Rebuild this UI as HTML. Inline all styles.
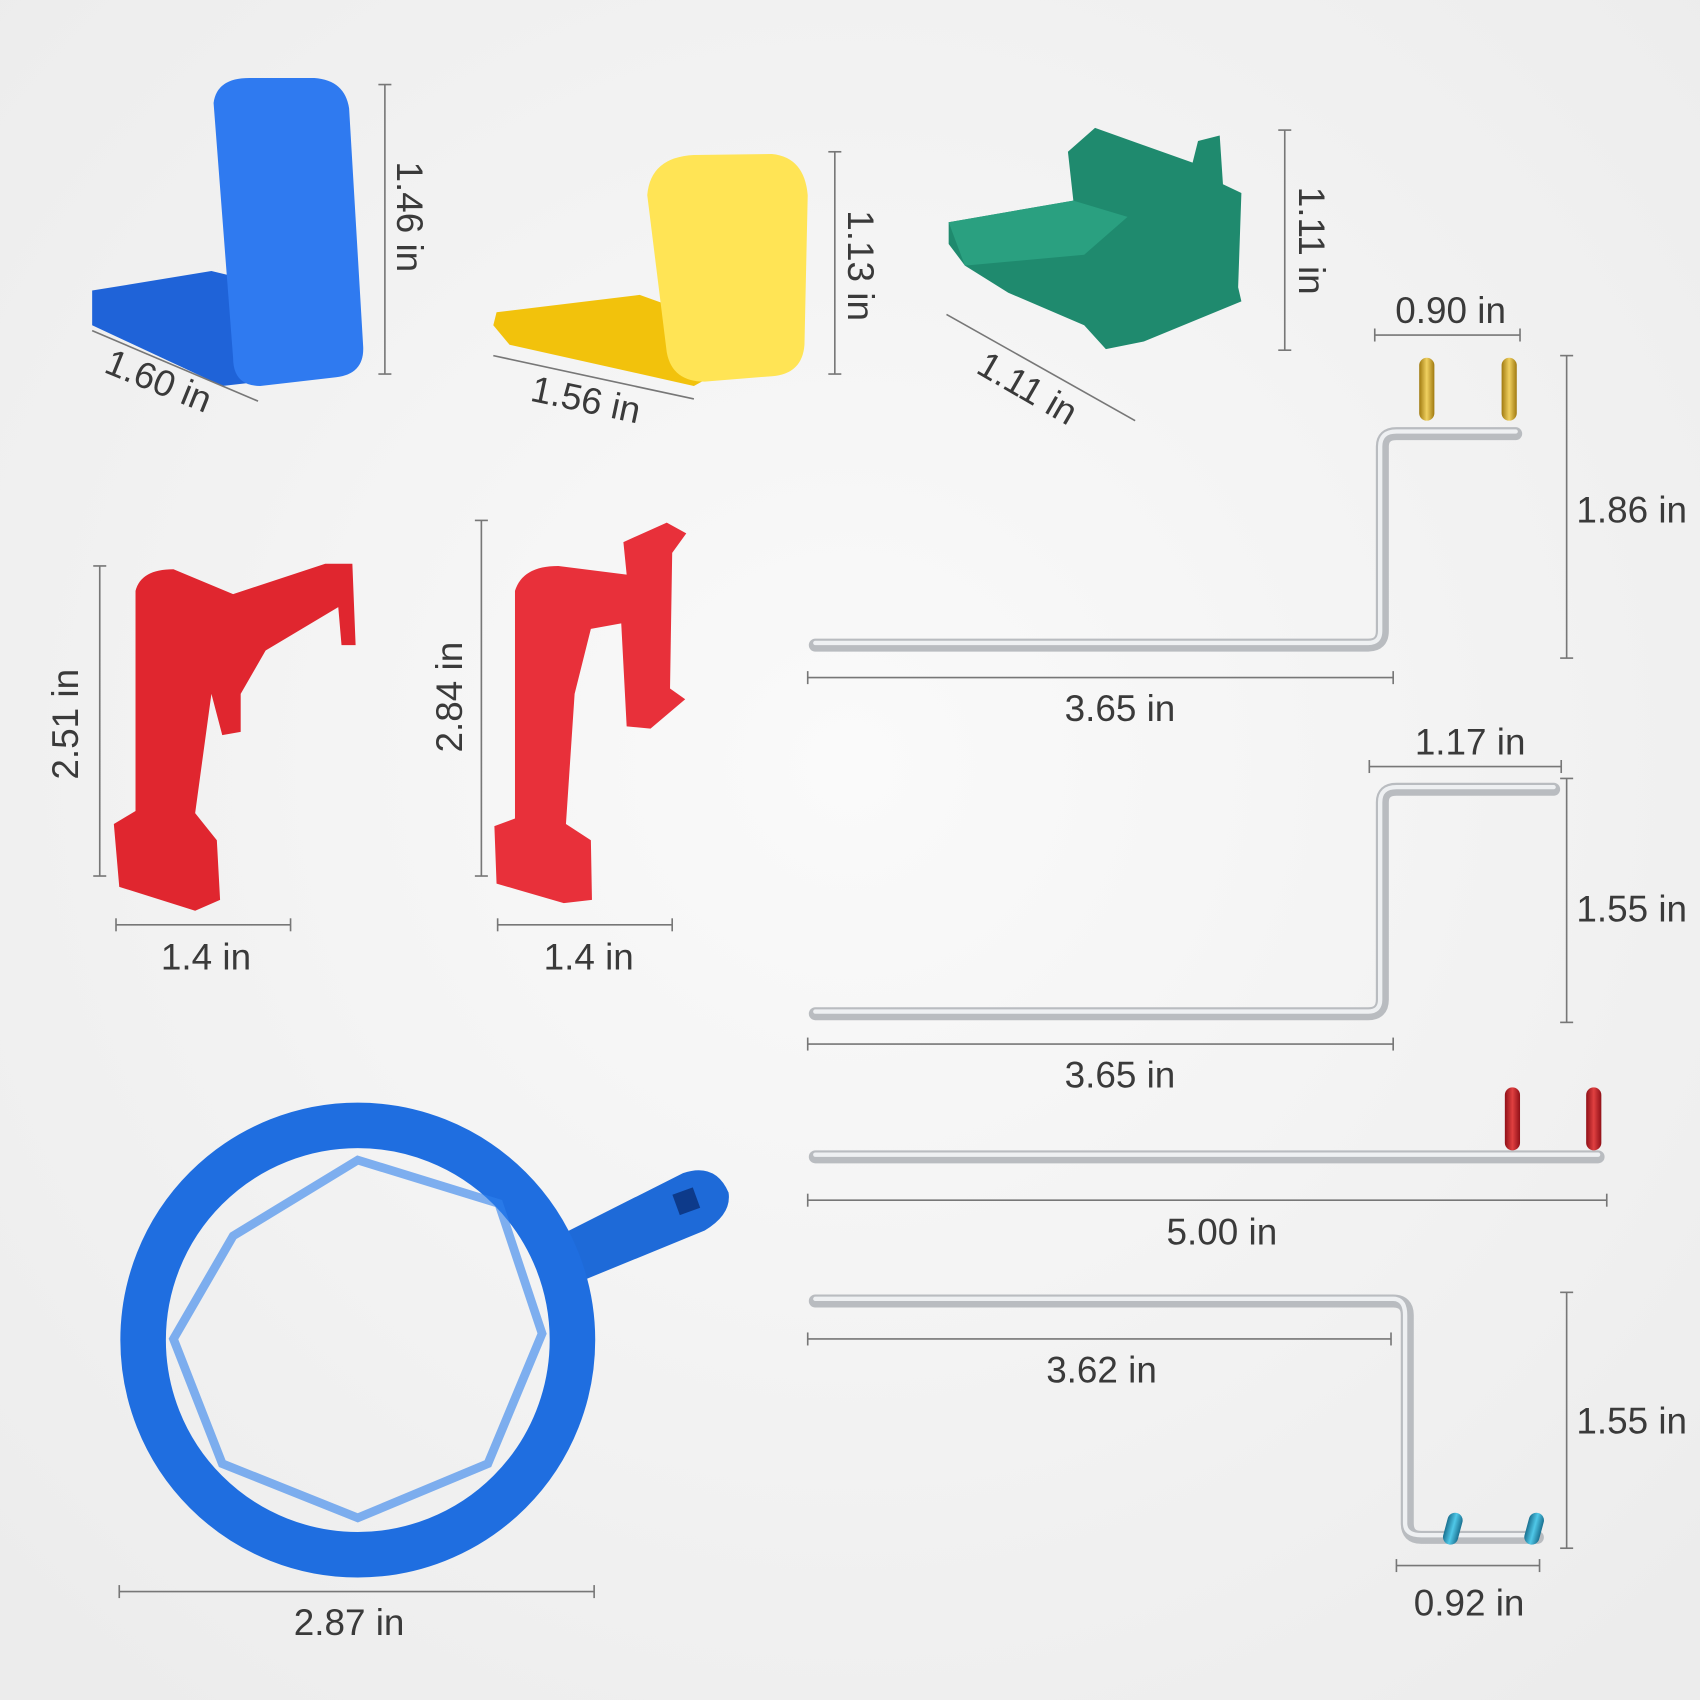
<!DOCTYPE html>
<html><head><meta charset="utf-8"><style>
html,body{margin:0;padding:0;background:#f3f3f3;}
svg{display:block}
text{font-family:"Liberation Sans",sans-serif;font-size:34px;fill:#3a3a3a;}
.d{stroke:#777;stroke-width:1.5;fill:none}
.rod{fill:none;stroke:#b9bcc0;stroke-width:12;stroke-linecap:round;stroke-linejoin:round}
.rodh{fill:none;stroke:#eef0f2;stroke-width:4;stroke-linecap:round;stroke-linejoin:round}
</style></head><body>
<svg width="1700" height="1700" viewBox="0 0 1568 1568" xmlns="http://www.w3.org/2000/svg">
<defs>
<radialGradient id="bg" cx="50%" cy="45%" r="70%"><stop offset="0" stop-color="#fafafa"/><stop offset="1" stop-color="#ececec"/></radialGradient>
<linearGradient id="gold" x1="0" x2="1"><stop offset="0" stop-color="#a07a10"/><stop offset=".5" stop-color="#f0d060"/><stop offset="1" stop-color="#a07a10"/></linearGradient>
<linearGradient id="redp" x1="0" x2="1"><stop offset="0" stop-color="#901018"/><stop offset=".5" stop-color="#e04040"/><stop offset="1" stop-color="#901018"/></linearGradient>
<linearGradient id="bluep" x1="0" x2="1"><stop offset="0" stop-color="#1a7090"/><stop offset=".5" stop-color="#50c8e8"/><stop offset="1" stop-color="#1a7090"/></linearGradient>
</defs>
<rect width="1568" height="1568" fill="url(#bg)"/>

<!-- Blue bite block -->
<path d="M85,268 L195,250 L245,262 L240,352 L205,356 L85,300 Z" fill="#1f63d8"/>
<path d="M197,95 Q200,72 230,72 L290,72 Q318,74 322,100 L335,320 Q336,345 310,348 L240,356 Q215,356 215,330 Z" fill="#2f7af0"/>
<line class="d" x1="355" y1="78" x2="355" y2="345"/><line class="d" x1="349" y1="78" x2="361" y2="78"/><line class="d" x1="349" y1="345" x2="361" y2="345"/>
<text transform="translate(366,200) rotate(90)" text-anchor="middle">1.46 in</text>
<line class="d" x1="85" y1="305" x2="238" y2="370"/>
<text transform="translate(142,362) rotate(22)" text-anchor="middle">1.60 in</text>

<!-- Yellow -->
<path d="M458,288 L590,272 L640,290 L660,345 L640,356 L470,318 L455,300 Z" fill="#f2c20c"/>
<path d="M597,180 Q600,145 640,143 L712,142 Q742,145 745,180 L742,318 Q740,345 712,347 L650,352 Q620,352 615,325 Z" fill="#ffe455"/>
<line class="d" x1="770" y1="140" x2="770" y2="345"/><line class="d" x1="764" y1="140" x2="776" y2="140"/><line class="d" x1="764" y1="345" x2="776" y2="345"/>
<text transform="translate(782,245) rotate(90)" text-anchor="middle">1.13 in</text>
<line class="d" x1="455" y1="328" x2="640" y2="368"/>
<text transform="translate(538,380) rotate(12)" text-anchor="middle">1.56 in</text>

<!-- Green -->
<path d="M875,205 L990,185 L985,140 L1010,118 L1100,150 L1105,130 L1125,125 L1128,170 L1145,178 L1142,265 L1145,278 L1055,315 L1020,322 L1000,300 L930,270 L890,245 L875,225 Z" fill="#1f8a6e"/>
<path d="M875,205 L990,185 L1040,200 L1000,235 L890,245 Z" fill="#2aa080"/>
<line class="d" x1="1185" y1="120" x2="1185" y2="323"/><line class="d" x1="1179" y1="120" x2="1191" y2="120"/><line class="d" x1="1179" y1="323" x2="1191" y2="323"/>
<text transform="translate(1198,222) rotate(90)" text-anchor="middle">1.11 in</text>
<line class="d" x1="873" y1="290" x2="1047" y2="388"/>
<text transform="translate(942,368) rotate(30)" text-anchor="middle">1.11 in</text>

<!-- Rod 1 -->
<path class="rod" d="M752,595 L1262,595 Q1275,595 1275,582 L1275,412 Q1275,400 1288,400 L1398,400"/>
<path class="rodh" d="M752,593 L1262,593 Q1273,593 1273,582 L1273,412 Q1273,398 1288,398 L1398,398"/>
<rect x="1309" y="330" width="14" height="58" rx="7" fill="url(#gold)"/>
<rect x="1385" y="330" width="14" height="58" rx="7" fill="url(#gold)"/>
<line class="d" x1="1268" y1="309" x2="1402" y2="309"/><line class="d" x1="1268" y1="303" x2="1268" y2="315"/><line class="d" x1="1402" y1="303" x2="1402" y2="315"/>
<text x="1338" y="298" text-anchor="middle">0.90 in</text>
<line class="d" x1="1445" y1="328" x2="1445" y2="607"/><line class="d" x1="1439" y1="328" x2="1451" y2="328"/><line class="d" x1="1439" y1="607" x2="1451" y2="607"/>
<text x="1505" y="482" text-anchor="middle">1.86 in</text>
<line class="d" x1="745" y1="625" x2="1285" y2="625"/><line class="d" x1="745" y1="619" x2="745" y2="631"/><line class="d" x1="1285" y1="619" x2="1285" y2="631"/>
<text x="1033" y="665" text-anchor="middle">3.65 in</text>

<!-- Rod 2 -->
<path class="rod" d="M752,935 L1262,935 Q1275,935 1275,922 L1275,740 Q1275,728 1288,728 L1433,728"/>
<path class="rodh" d="M752,933 L1262,933 Q1273,933 1273,922 L1273,740 Q1273,726 1288,726 L1433,726"/>
<line class="d" x1="1263" y1="707" x2="1440" y2="707"/><line class="d" x1="1263" y1="701" x2="1263" y2="713"/><line class="d" x1="1440" y1="701" x2="1440" y2="713"/>
<text x="1356" y="696" text-anchor="middle">1.17 in</text>
<line class="d" x1="1445" y1="718" x2="1445" y2="943"/><line class="d" x1="1439" y1="718" x2="1451" y2="718"/><line class="d" x1="1439" y1="943" x2="1451" y2="943"/>
<text x="1505" y="850" text-anchor="middle">1.55 in</text>
<line class="d" x1="745" y1="963" x2="1285" y2="963"/><line class="d" x1="745" y1="957" x2="745" y2="969"/><line class="d" x1="1285" y1="957" x2="1285" y2="969"/>
<text x="1033" y="1003" text-anchor="middle">3.65 in</text>

<!-- Rod 3 -->
<path class="rod" d="M752,1067 L1474,1067"/>
<path class="rodh" d="M752,1065 L1474,1065"/>
<rect x="1388" y="1003" width="14" height="58" rx="7" fill="url(#redp)"/>
<rect x="1463" y="1003" width="14" height="58" rx="7" fill="url(#redp)"/>
<line class="d" x1="745" y1="1107" x2="1482" y2="1107"/><line class="d" x1="745" y1="1101" x2="745" y2="1113"/><line class="d" x1="1482" y1="1101" x2="1482" y2="1113"/>
<text x="1127" y="1148" text-anchor="middle">5.00 in</text>

<!-- Rod 4 -->
<path class="rod" d="M752,1200 L1285,1200 Q1298,1200 1298,1213 L1298,1405 Q1298,1418 1311,1418 L1418,1418"/>
<path class="rodh" d="M752,1198 L1285,1198 Q1296,1198 1296,1213 L1296,1405 Q1296,1416 1311,1416 L1418,1416"/>
<rect x="1333" y="1395" width="14" height="30" rx="7" fill="url(#bluep)" transform="rotate(15 1340 1410)"/>
<rect x="1408" y="1395" width="14" height="30" rx="7" fill="url(#bluep)" transform="rotate(15 1415 1410)"/>
<line class="d" x1="745" y1="1235" x2="1283" y2="1235"/><line class="d" x1="745" y1="1229" x2="745" y2="1241"/><line class="d" x1="1283" y1="1229" x2="1283" y2="1241"/>
<text x="1016" y="1275" text-anchor="middle">3.62 in</text>
<line class="d" x1="1445" y1="1192" x2="1445" y2="1428"/><line class="d" x1="1439" y1="1192" x2="1451" y2="1192"/><line class="d" x1="1439" y1="1428" x2="1451" y2="1428"/>
<text x="1505" y="1322" text-anchor="middle">1.55 in</text>
<line class="d" x1="1288" y1="1444" x2="1420" y2="1444"/><line class="d" x1="1288" y1="1438" x2="1288" y2="1450"/><line class="d" x1="1420" y1="1438" x2="1420" y2="1450"/>
<text x="1355" y="1490" text-anchor="middle">0.92 in</text>

<!-- Red holder 1 -->
<path d="M125,545 Q130,525 160,525 L215,548 L300,520 L325,520 L328,595 L315,595 L312,560 L245,600 L222,640 L222,675 L205,678 L195,640 L180,750 L200,775 L203,830 L180,840 L110,818 L105,760 L125,748 Z" fill="#e0262f"/>
<line class="d" x1="92" y1="522" x2="92" y2="808"/><line class="d" x1="86" y1="522" x2="98" y2="522"/><line class="d" x1="86" y1="808" x2="98" y2="808"/>
<text transform="translate(72,668) rotate(-90)" text-anchor="middle">2.51 in</text>
<line class="d" x1="107" y1="853" x2="268" y2="853"/><line class="d" x1="107" y1="847" x2="107" y2="859"/><line class="d" x1="268" y1="847" x2="268" y2="859"/>
<text x="190" y="894" text-anchor="middle">1.4 in</text>

<!-- Red holder 2 -->
<path d="M475,545 Q482,522 515,522 L578,530 L575,500 L615,482 L633,492 L620,510 L618,635 L632,645 L600,672 L578,670 L573,575 L545,580 L530,640 L522,760 L545,775 L546,830 L520,833 L458,815 L456,762 L475,755 Z" fill="#e8303a"/>
<line class="d" x1="444" y1="480" x2="444" y2="808"/><line class="d" x1="438" y1="480" x2="450" y2="480"/><line class="d" x1="438" y1="808" x2="450" y2="808"/>
<text transform="translate(426,643) rotate(-90)" text-anchor="middle">2.84 in</text>
<line class="d" x1="459" y1="853" x2="620" y2="853"/><line class="d" x1="459" y1="847" x2="459" y2="859"/><line class="d" x1="620" y1="847" x2="620" y2="859"/>
<text x="543" y="894" text-anchor="middle">1.4 in</text>

<!-- Blue ring -->
<path d="M515,1140 L630,1082 Q660,1072 672,1100 Q675,1120 650,1135 L540,1180 Z" fill="#1e6ad8"/>
<rect x="623" y="1098" width="20" height="20" fill="#0d3a8a" transform="rotate(-20 633 1108)"/>
<circle cx="330" cy="1236" r="198" fill="none" stroke="#1f6ee0" stroke-width="42"/>
<path d="M215,1140 L330,1070 L460,1110 L500,1230 L450,1350 L330,1400 L205,1350 L160,1235 Z" fill="none" stroke="#2e80ec" stroke-width="8" opacity=".6"/>
<line class="d" x1="110" y1="1468" x2="548" y2="1468"/><line class="d" x1="110" y1="1462" x2="110" y2="1474"/><line class="d" x1="548" y1="1462" x2="548" y2="1474"/>
<text x="322" y="1508" text-anchor="middle">2.87 in</text>
</svg>
</body></html>
